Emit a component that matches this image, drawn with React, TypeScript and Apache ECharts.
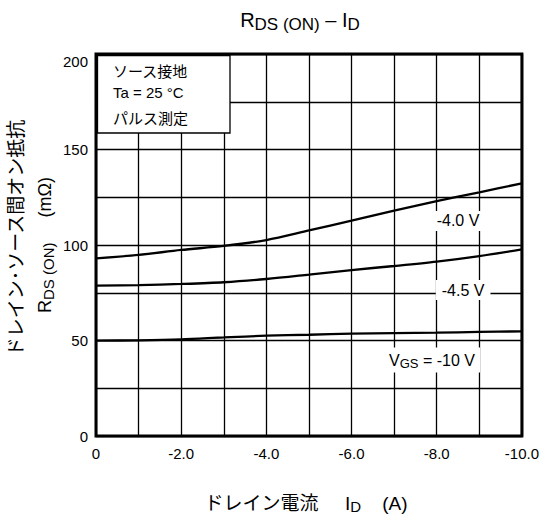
import React, { useEffect, useRef } from "react";
import * as echarts from "echarts";

// Drain current I_D (A)
const drainCurrent = [0, -1, -2, -3, -4, -5, -6, -7, -8, -9, -10];
// R_DS(ON) (mΩ) per gate voltage
const rdsVgs4_0 = [93, 94.8, 97.4, 99.5, 102.6, 107.6, 112.7, 118, 123, 127.6, 132.3];
const rdsVgs4_5 = [78.7, 79, 79.6, 80.5, 82.2, 84.5, 86.9, 89, 91.3, 94.2, 97.7];
const rdsVgs10 = [49.9, 50.1, 50.6, 51.6, 52.5, 53, 53.6, 53.9, 54.1, 54.5, 54.8];

const conditionLines = ["ソース接地", "Ta = 25 °C", "パルス測定"];
const curveLabelTexts = ["-4.0 V", "-4.5 V", "{v|V}{s|GS}{v| = -10 V}"];
const curveLabelAnchors = [
  [-8.5, 112.6],
  [-8.62, 76.4],
  [-7.89, 39.8],
];

const FONT = "'Liberation Sans', Arial, 'Noto Sans CJK JP', sans-serif";

export default function App() {
  const ref = useRef<HTMLDivElement>(null);

  useEffect(() => {
    if (!ref.current) return;
    const chart = echarts.init(ref.current, undefined, { renderer: "svg" });

    const mkSeries = (data: number[], name: string) => ({
      type: "line",
      name,
      data: drainCurrent.map((x, i) => [x, data[i]]),
      showSymbol: false,
      smooth: 0.3,
      lineStyle: { color: "#000", width: 2.3 },
      z: 5,
    });

    chart.setOption({
      animation: false,
      grid: {
        left: 96,
        right: 19,
        top: 54,
        bottom: 80,
        show: true,
        borderColor: "#000",
        borderWidth: 3,
        backgroundColor: "#fff",
      },
      xAxis: {
        type: "value",
        min: -10,
        max: 0,
        interval: 1,
        inverse: true,
        axisLine: { show: false },
        axisTick: { show: false },
        splitLine: { show: true, lineStyle: { color: "#000", width: 1.3 } },
        axisLabel: {
          color: "#000",
          fontSize: 15,
          fontFamily: FONT,
          margin: 10,
          showMinLabel: true,
          showMaxLabel: true,
          formatter: (v: number) => {
            const r = Math.round(v);
            if (r % 2 !== 0) return "";
            return r === 0 ? "0" : r.toFixed(1);
          },
        },
      },
      yAxis: {
        type: "value",
        min: 0,
        max: 200,
        interval: 25,
        axisLine: { show: false },
        axisTick: { show: false },
        splitLine: { show: true, lineStyle: { color: "#000", width: 1.3 } },
        axisLabel: {
          color: "#000",
          fontSize: 15,
          fontFamily: FONT,
          margin: 8,
          showMinLabel: true,
          showMaxLabel: true,
          formatter: (v: number) => {
            const r = Math.round(v);
            if (r % 50 !== 0) return "";
            return r === 200 ? "{t|200}" : String(r);
          },
          rich: {
            t: { fontSize: 15, fontFamily: FONT, color: "#000", padding: [14, 0, 0, 0] },
          },
        },
      },
      series: [
        mkSeries(rdsVgs4_0, "-4.0 V"),
        mkSeries(rdsVgs4_5, "-4.5 V"),
        mkSeries(rdsVgs10, "-10 V"),
      ],
    });

    const sub = (size: number) => ({
      fontSize: size,
      fontFamily: FONT,
      fill: "#000",
      padding: [Math.round(size * 0.5), 0, 0, 0],
    });
    const main = (size: number) => ({ fontSize: size, fontFamily: FONT, fill: "#000" });

    const labelEls = curveLabelTexts.map((t, i) => {
      const [px, py] = chart.convertToPixel({ gridIndex: 0 }, curveLabelAnchors[i]) as number[];
      return {
        type: "text",
        z: 100,
        style: {
          x: px,
          y: py,
          text: t,
          align: "center",
          verticalAlign: "middle",
          fontSize: 16,
          fontFamily: FONT,
          fill: "#000",
          backgroundColor: "#fff",
          padding: i === 2 ? [4, 5, 2, 5] : i === 1 ? [2, 6] : [2, 3],
          rich: {
            v: main(16),
            s: { ...sub(13), padding: [6, 0, 0, 0] },
          },
        },
      };
    });

    chart.setOption({
      graphic: [
        {
          type: "text",
          z: 100,
          style: {
            x: 300,
            y: 20,
            text: "{r|R}{s|DS (ON)}{r| – I}{s|D}",
            align: "center",
            verticalAlign: "middle",
            rich: { r: main(20), s: { ...sub(17), padding: [8, 0, 0, 0] } },
          },
        },
        {
          type: "rect",
          z: 90,
          shape: { x: 97.5, y: 55.5, width: 132.5, height: 77.5 },
          style: { fill: "#fff", stroke: "#000", lineWidth: 1.3 },
        },
        ...conditionLines.map((t, i) => ({
          type: "text",
          z: 100,
          style: {
            x: 113,
            y: [71, 92, 118][i],
            text: t,
            align: "left",
            verticalAlign: "middle",
            fontSize: 15,
            fontFamily: FONT,
            fill: "#000",
          },
        })),
        ...labelEls,
        {
          type: "text",
          z: 100,
          rotation: Math.PI / 2,
          x: 16,
          y: 238,
          style: {
            x: 0,
            y: 0,
            text: "ドレイン･ソース間オン抵抗",
            align: "center",
            verticalAlign: "middle",
            fontSize: 19,
            fontFamily: FONT,
            fill: "#000",
          },
        },
        {
          type: "text",
          z: 100,
          rotation: Math.PI / 2,
          x: 45,
          y: 245,
          style: {
            x: 0,
            y: 0,
            text: "{r|R}{s|DS (ON)}{r|     (mΩ)}",
            align: "center",
            verticalAlign: "middle",
            rich: { r: main(18), s: { ...sub(15), padding: [7, 0, 0, 0] } },
          },
        },
        {
          type: "text",
          z: 100,
          x: 306,
          y: 503,
          style: {
            x: 0,
            y: 0,
            text: "{j|ドレイン電流     I}{s|D}{j|    (A)}",
            align: "center",
            verticalAlign: "middle",
            rich: { j: main(19), s: { ...sub(15), padding: [7, 0, 0, 0] } },
          },
        },
      ],
    });

    return () => chart.dispose();
  }, []);

  return (
    <div
      ref={ref}
      style={{ position: "absolute", left: 0, top: 0, width: 542, height: 516 }}
    />
  );
}
